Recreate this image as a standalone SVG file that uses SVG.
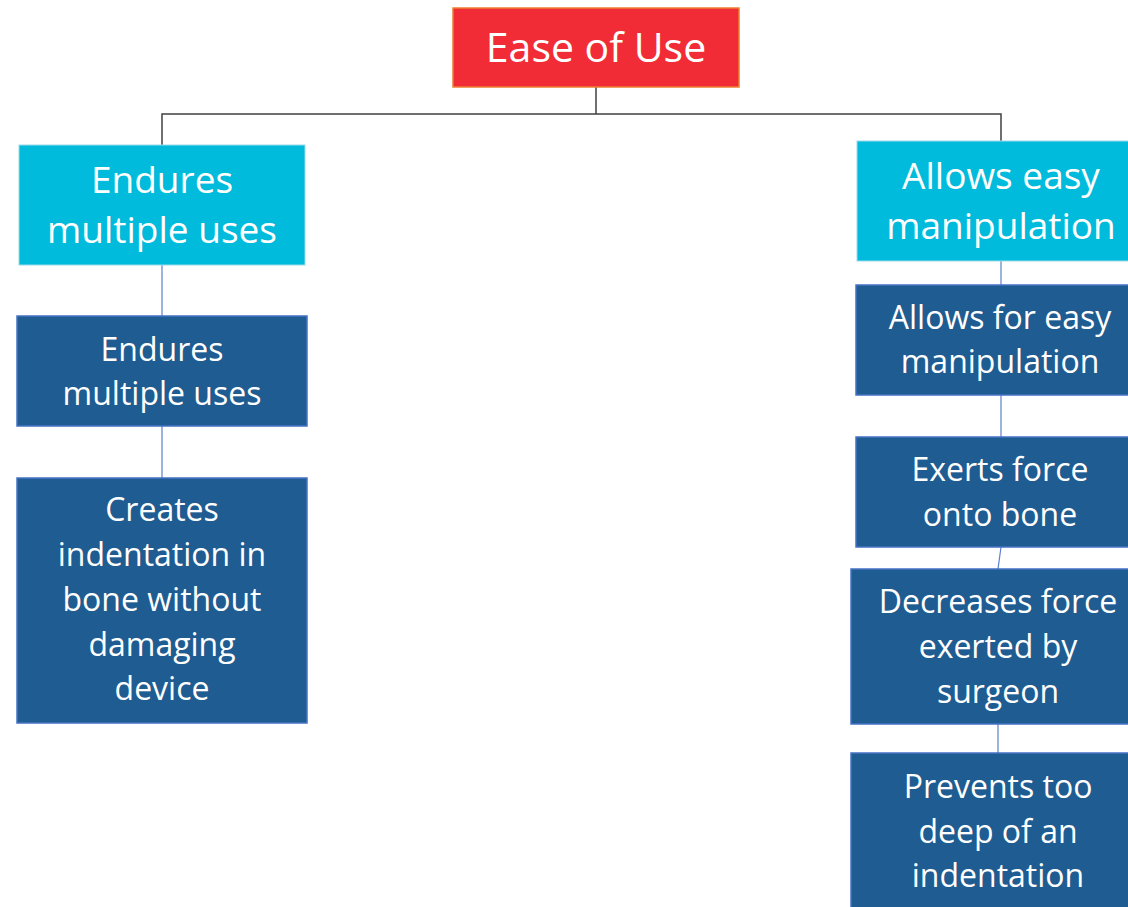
<svg xmlns="http://www.w3.org/2000/svg" width="1128" height="907" viewBox="0 0 1128 907">
<style>
.t{font-family:"Open Sans","Noto Sans","Liberation Sans",sans-serif;fill:#fff;text-anchor:middle}
.root{fill:#F22C37;stroke:#ED7D31;stroke-width:1.5}
.l1{fill:#00BBDB;stroke:#9DD9EA;stroke-width:1}
.l2{fill:#1F5C91;stroke:#4472C4;stroke-width:1.5}
.c0{stroke:#404040;stroke-width:1.5;fill:none}
.c1{stroke:#5B80CC;stroke-width:1.2;fill:none}
.s{font-size:32px}
.m{font-size:37px}
</style>
<rect width="1128" height="907" fill="#fff"/>
<g id="connectors">
<polyline class="c0" points="596,87 596,114"/>
<polyline class="c0" points="162,145 162,114 1001,114 1001,141"/>
<line class="c1" x1="162" y1="265" x2="162" y2="316"/>
<line class="c1" x1="162" y1="426" x2="162" y2="478"/>
<line class="c1" x1="1001" y1="261" x2="1001" y2="285"/>
<line class="c1" x1="1001" y1="395" x2="1001" y2="437"/>
<line class="c1" x1="1001" y1="547" x2="998" y2="569"/>
<line class="c1" x1="998" y1="724" x2="998" y2="753"/>
</g>
<g id="root">
<rect class="root" x="453" y="8" width="286" height="79"/>
<text class="t" x="596" y="62" font-size="41">Ease of Use</text>
</g>
<g id="left1">
<rect class="l1" x="19" y="145" width="286" height="120"/>
<text class="t m" x="162" y="193">Endures</text>
<text class="t m" x="162" y="243">multiple uses</text>
</g>
<g id="right1">
<rect class="l1" x="857" y="141" width="275" height="120"/>
<text class="t m" x="1001" y="189">Allows easy</text>
<text class="t m" x="1001" y="239">manipulation</text>
</g>
<g id="left2">
<rect class="l2" x="17" y="316" width="290" height="110"/>
<text class="t s" x="162" y="361">Endures</text>
<text class="t s" x="162" y="405">multiple uses</text>
</g>
<g id="left3">
<rect class="l2" x="17" y="478" width="290" height="245"/>
<text class="t s" x="162" y="521">Creates</text>
<text class="t s" x="162" y="566">indentation in</text>
<text class="t s" x="162" y="611">bone without</text>
<text class="t s" x="162" y="656">damaging</text>
<text class="t s" x="162" y="700">device</text>
</g>
<g id="right2">
<rect class="l2" x="856" y="285" width="276" height="110"/>
<text class="t s" x="1000" y="329">Allows for easy</text>
<text class="t s" x="1000" y="373">manipulation</text>
</g>
<g id="right3">
<rect class="l2" x="856" y="437" width="276" height="110"/>
<text class="t s" x="1000" y="481">Exerts force</text>
<text class="t s" x="1000" y="526">onto bone</text>
</g>
<g id="right4">
<rect class="l2" x="851" y="569" width="281" height="155"/>
<text class="t s" x="998" y="613">Decreases force</text>
<text class="t s" x="998" y="658">exerted by</text>
<text class="t s" x="998" y="703">surgeon</text>
</g>
<g id="right5">
<rect class="l2" x="851" y="753" width="281" height="160"/>
<text class="t s" x="998" y="798">Prevents too</text>
<text class="t s" x="998" y="843">deep of an</text>
<text class="t s" x="998" y="887">indentation</text>
</g>
</svg>
